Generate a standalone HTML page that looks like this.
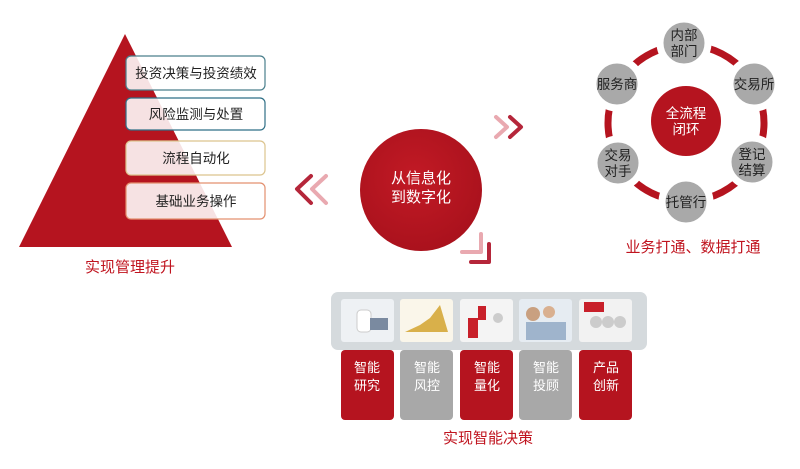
<!DOCTYPE html>
<html><head><meta charset="utf-8"><style>
html,body{margin:0;padding:0;background:#fff;}
svg text{font-family:"Liberation Sans","Noto Sans CJK SC",sans-serif;}
</style></head><body>
<svg width="800" height="464" viewBox="0 0 800 464" xmlns="http://www.w3.org/2000/svg">
<defs>
<radialGradient id="rg" cx="0.45" cy="0.4" r="0.65"><stop offset="0" stop-color="#c21a25"/><stop offset="1" stop-color="#a8111c"/></radialGradient>
</defs>
<!-- pyramid -->
<polygon points="125,34 232,247 19,247" fill="#b5141f"/>
<g font-size="13.5" fill="#222" text-anchor="middle">
<rect x="126" y="56" width="139" height="34" rx="5" fill="rgba(255,255,255,0.88)" stroke="#4a7f8c" stroke-width="1.2"/>
<text x="196" y="78">投资决策与投资绩效</text>
<rect x="126" y="98" width="139" height="32" rx="5" fill="rgba(255,255,255,0.88)" stroke="#2f6f86" stroke-width="1.2"/>
<text x="196" y="119">风险监测与处置</text>
<rect x="126" y="141" width="139" height="34" rx="5" fill="rgba(255,255,255,0.88)" stroke="#dcc48e" stroke-width="1.2"/>
<text x="196" y="163">流程自动化</text>
<rect x="126" y="183" width="139" height="36" rx="5" fill="rgba(255,255,255,0.88)" stroke="#e3906f" stroke-width="1.2"/>
<text x="196" y="206">基础业务操作</text>
</g>
<text x="130" y="272" font-size="15" fill="#c0141f" text-anchor="middle">实现管理提升</text>
<!-- chevrons -->
<g fill="none" stroke-width="4" stroke-linecap="round" stroke-linejoin="round">
<polyline points="311,176 297,189 311,203" stroke="#b5263a"/>
<polyline points="326,176 312,189 326,203" stroke="#e9a9b0"/>
<polyline points="496,117 507,127 496,137" stroke="#e9a9b0"/>
<polyline points="510,117 521,127 510,137" stroke="#b5263a"/>
<polyline points="462,252 481,252 481,234" stroke="#e9a9b0"/>
<polyline points="471,262 489,262 489,244" stroke="#b5263a"/>
</g>
<!-- center circle -->
<circle cx="421" cy="190" r="61" fill="url(#rg)"/>
<text x="421" y="183" font-size="15" fill="#fff" text-anchor="middle">从信息化</text>
<text x="421" y="202" font-size="15" fill="#fff" text-anchor="middle">到数字化</text>
<!-- ring -->
<circle cx="686" cy="123" r="78" fill="none" stroke="#b5141f" stroke-width="7"/>
<g fill="#a9a9a9" stroke="#fff" stroke-width="7">
<circle cx="684" cy="43" r="24"/>
<circle cx="754" cy="84" r="24"/>
<circle cx="752" cy="162" r="24"/>
<circle cx="686" cy="202" r="24"/>
<circle cx="618" cy="163" r="24"/>
<circle cx="617" cy="84" r="24"/>
</g>
<circle cx="686" cy="121" r="35" fill="#b5141f"/>
<g font-size="13.5" fill="#222" text-anchor="middle">
<text x="684" y="40">内部</text><text x="684" y="56">部门</text>
<text x="754" y="89">交易所</text>
<text x="752" y="159">登记</text><text x="752" y="175">结算</text>
<text x="686" y="207">托管行</text>
<text x="618" y="160">交易</text><text x="618" y="176">对手</text>
<text x="617" y="89">服务商</text>
<text x="686" y="118" fill="#fff">全流程</text><text x="686" y="134" fill="#fff">闭环</text>
</g>
<text x="693" y="252" font-size="15" fill="#c0141f" text-anchor="middle">业务打通、数据打通</text>
<!-- bottom -->
<rect x="331" y="292" width="316" height="58" rx="7" fill="#d5dadd"/>
<g>
<rect x="341" y="350" width="53" height="70" rx="4" fill="#b5141f"/>
<rect x="400" y="350" width="53" height="70" rx="4" fill="#a8a8a8"/>
<rect x="460" y="350" width="53" height="70" rx="4" fill="#b5141f"/>
<rect x="519" y="350" width="53" height="70" rx="4" fill="#a8a8a8"/>
<rect x="579" y="350" width="53" height="70" rx="4" fill="#b5141f"/>
</g>
<g>
<rect x="341" y="299" width="53" height="43" rx="3" fill="#eef1f4"/>
<rect x="357" y="310" width="14" height="22" rx="4" fill="#fff" stroke="#ccc"/>
<rect x="370" y="318" width="18" height="12" fill="#7a8aa0"/>
<rect x="400" y="299" width="53" height="43" rx="3" fill="#faf6ea"/>
<polygon points="405,332 448,332 440,305 430,318 420,325" fill="#d9b04a"/>
<rect x="460" y="299" width="53" height="43" rx="3" fill="#f4f4f4"/>
<rect x="468" y="318" width="10" height="20" fill="#c8202a"/>
<rect x="478" y="306" width="8" height="14" fill="#c8202a"/>
<circle cx="498" cy="318" r="5" fill="#ccc"/>
<rect x="519" y="299" width="53" height="43" rx="3" fill="#e6ecf2"/>
<circle cx="533" cy="314" r="7" fill="#c9a080"/>
<circle cx="549" cy="312" r="6" fill="#d9b090"/>
<rect x="526" y="322" width="40" height="18" fill="#9fb4cc"/>
<rect x="579" y="299" width="53" height="43" rx="3" fill="#f2f2f2"/>
<rect x="584" y="302" width="20" height="10" fill="#c8202a"/>
<circle cx="596" cy="322" r="6" fill="#ccc"/><circle cx="608" cy="322" r="6" fill="#ccc"/><circle cx="620" cy="322" r="6" fill="#ccc"/>
</g>
<g font-size="13" fill="#fff" text-anchor="middle">
<text x="367" y="372">智能</text><text x="367" y="390">研究</text>
<text x="427" y="372">智能</text><text x="427" y="390">风控</text>
<text x="487" y="372">智能</text><text x="487" y="390">量化</text>
<text x="546" y="372">智能</text><text x="546" y="390">投顾</text>
<text x="606" y="372">产品</text><text x="606" y="390">创新</text>
</g>
<text x="488" y="443" font-size="15" fill="#c0141f" text-anchor="middle">实现智能决策</text>
</svg>
</body></html>
